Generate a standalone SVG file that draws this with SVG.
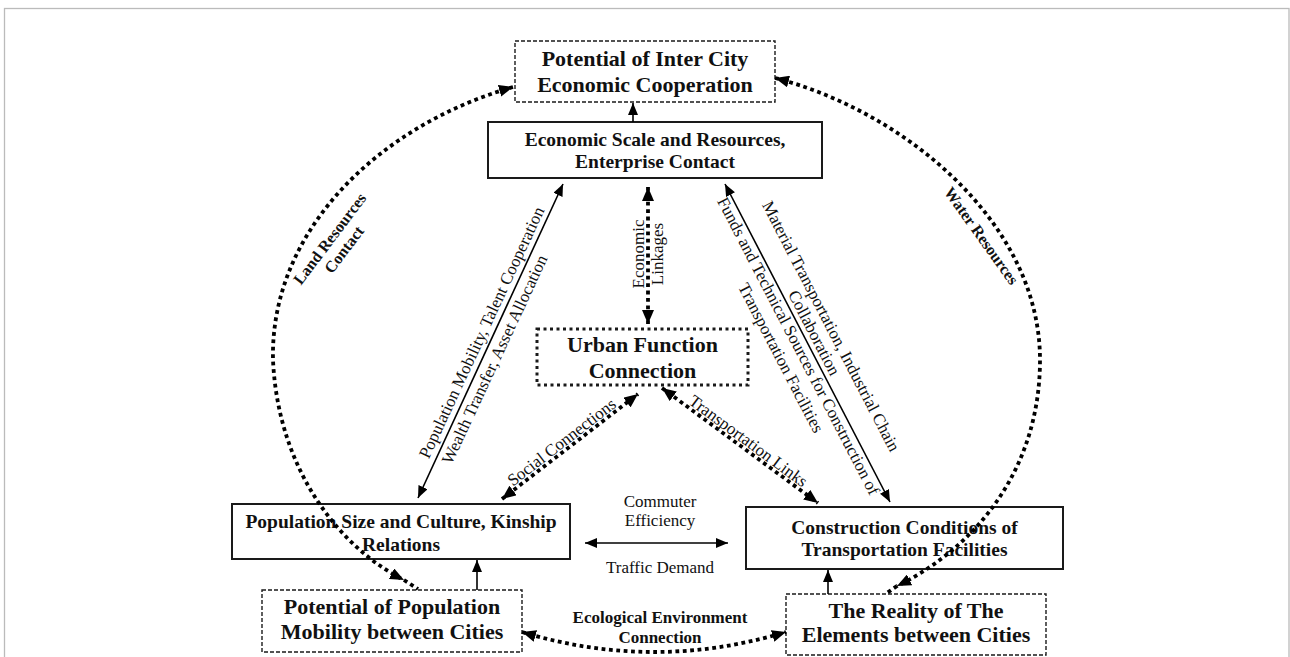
<svg xmlns="http://www.w3.org/2000/svg" width="1290" height="657" viewBox="0 0 1290 657">
  <defs>
    <style>
      .frame { fill: none; stroke: #bbbbbb; stroke-width: 1.3; }
      .solid-box { fill: none; stroke: #1a1a1a; stroke-width: 2; }
      .dash-box { fill: none; stroke: #1a1a1a; stroke-width: 1.4; stroke-dasharray: 4 2; }
      .dot-box { fill: none; stroke: #1a1a1a; stroke-width: 3; stroke-dasharray: 3 3.5; }
      .title { font-family: "Liberation Serif", "Times New Roman", serif; font-weight: bold; font-size: 22px; fill: #111; text-anchor: middle; }
      .name { font-family: "Liberation Serif", "Times New Roman", serif; font-weight: bold; font-size: 19.5px; fill: #111; text-anchor: middle; }
      .tag-bold { font-family: "Liberation Serif", "Times New Roman", serif; font-weight: bold; font-size: 16px; fill: #111; text-anchor: middle; }
      .eco-bold { font-family: "Liberation Serif", "Times New Roman", serif; font-weight: bold; font-size: 17px; fill: #111; text-anchor: middle; }
      .tag { font-family: "Liberation Serif", "Times New Roman", serif; font-size: 17px; fill: #111; text-anchor: middle; }
      .line { fill: none; stroke: #000; stroke-width: 1.6; }
      .dots { fill: none; stroke: #000; stroke-width: 3.8; stroke-dasharray: 3.8 3.6; }
    </style>
    <marker id="head" viewBox="0 0 12 10" refX="12" refY="5" markerWidth="12" markerHeight="10" markerUnits="userSpaceOnUse" orient="auto-start-reverse">
      <path d="M0,0 L12,5 L0,10 z" fill="#000"/>
    </marker>
    <marker id="head-dot" viewBox="0 0 14 12" refX="14" refY="6" markerWidth="14" markerHeight="12" markerUnits="userSpaceOnUse" orient="auto-start-reverse">
      <path d="M0,0 L14,6 L0,12 z" fill="#000"/>
    </marker>
  </defs>

  <rect class="frame" x="4.5" y="8.5" width="1284.5" height="660"/>

  <g id="inter-city-cooperation">
    <rect class="dash-box" x="515" y="41" width="260" height="61"/>
    <text class="title" x="645" y="65.5">Potential of Inter City</text>
    <text class="title" x="645" y="91.5">Economic Cooperation</text>
  </g>

  <g id="economic-scale">
    <rect class="solid-box" x="488" y="122" width="334" height="56"/>
    <text class="name" x="655" y="145.5">Economic Scale and Resources,</text>
    <text class="name" x="655" y="168">Enterprise Contact</text>
  </g>

  <g id="urban-function">
    <rect class="dot-box" x="537" y="329" width="211" height="56"/>
    <text class="title" x="642.5" y="352">Urban Function</text>
    <text class="title" x="642.5" y="378">Connection</text>
  </g>

  <g id="population-size">
    <rect class="solid-box" x="232" y="504" width="338" height="55"/>
    <text class="name" x="401" y="528">Population Size and Culture, Kinship</text>
    <text class="name" x="401" y="550.5">Relations</text>
  </g>

  <g id="transport-conditions">
    <rect class="solid-box" x="746" y="507" width="317" height="62"/>
    <text class="name" x="904.5" y="534">Construction Conditions of</text>
    <text class="name" x="904.5" y="556">Transportation Facilities</text>
  </g>

  <g id="population-mobility">
    <rect class="dash-box" x="262" y="590" width="260" height="62"/>
    <text class="title" x="392" y="614">Potential of Population</text>
    <text class="title" x="392" y="638.5">Mobility between Cities</text>
  </g>

  <g id="element-reality">
    <rect class="dash-box" x="786" y="594" width="260" height="61"/>
    <text class="title" x="916" y="617.5">The Reality of The</text>
    <text class="title" x="916" y="642">Elements between Cities</text>
  </g>

  <!-- connectors -->
  <g id="connectors">
    <!-- outer resource arcs -->
    <path class="dots" d="M513,87 C380,125 270,230 273,360 C278,470 340,548 404,580" marker-start="url(#head-dot)" marker-end="url(#head-dot)"/>
    <path class="dots" d="M404,580 L418,589"/>
    <path class="dots" d="M775,78 C900,110 1040,220 1040,360 C1040,470 975,548 897,586" marker-start="url(#head-dot)" marker-end="url(#head-dot)"/>
    <path class="dots" d="M897,586 L887,593"/>
    <path class="dots" d="M522,632 Q654,672 786,632" marker-start="url(#head-dot)" marker-end="url(#head-dot)"/>

    <!-- vertical feeds -->
    <line class="line" x1="633" y1="122" x2="633" y2="103" marker-end="url(#head)"/>
    <line class="line" x1="477" y1="590" x2="477" y2="560" marker-end="url(#head)"/>
    <line class="line" x1="828" y1="594" x2="828" y2="570" marker-end="url(#head)"/>

    <!-- inner triangle -->
    <line class="line" x1="418" y1="498" x2="563" y2="184" marker-start="url(#head)" marker-end="url(#head)"/>
    <line class="line" x1="725" y1="184" x2="890" y2="502" marker-start="url(#head)" marker-end="url(#head)"/>
    <line class="line" x1="585" y1="543" x2="728" y2="543" marker-start="url(#head)" marker-end="url(#head)"/>

    <!-- urban function links -->
    <line class="dots" x1="648" y1="187" x2="648" y2="324" marker-start="url(#head-dot)" marker-end="url(#head-dot)"/>
    <line class="dots" x1="502" y1="499" x2="638" y2="394" marker-start="url(#head-dot)" marker-end="url(#head-dot)"/>
    <line class="dots" x1="662" y1="388" x2="818" y2="503" marker-start="url(#head-dot)" marker-end="url(#head-dot)"/>

    <!-- connector labels -->
    <g transform="translate(334,242) rotate(-53)">
      <text class="tag-bold" x="0" y="0">Land Resources</text>
      <text class="tag-bold" x="0" y="18">Contact</text>
    </g>
    <text class="tag-bold" transform="translate(977,239) rotate(54.4)">Water Resources</text>
    <g transform="translate(644,254) rotate(-90)">
      <text class="tag" x="0" y="0">Economic</text>
      <text class="tag" x="0" y="19">Linkages</text>
    </g>
    <g transform="translate(490.5,341) rotate(-65.07)">
      <text class="tag" x="4" y="-6">Population Mobility, Talent Cooperation</text>
      <text class="tag" x="-15" y="17">Wealth Transfer, Asset Allocation</text>
    </g>
    <g transform="translate(807.5,343) rotate(62.58)">
      <text class="tag" x="-4" y="-23">Material Transportation, Industrial Chain</text>
      <text class="tag" x="-6" y="-5">Collaboration</text>
      <text class="tag" x="-1.5" y="15">Funds and Technical Sources for Construction of</text>
      <text class="tag" x="1" y="36">Transportation Facilities</text>
    </g>
    <text class="tag" transform="translate(570,446.5) rotate(-37.7)" x="-4" y="-3">Social Connections</text>
    <text class="tag" transform="translate(740,445.5) rotate(36.4)" x="4" y="-3">Transportation Links</text>
    <text class="tag" x="660" y="507">Commuter</text>
    <text class="tag" x="660" y="526">Efficiency</text>
    <text class="tag" x="660" y="573">Traffic Demand</text>
    <text class="eco-bold" x="660" y="623">Ecological Environment</text>
    <text class="eco-bold" x="660" y="643">Connection</text>
  </g>
</svg>
